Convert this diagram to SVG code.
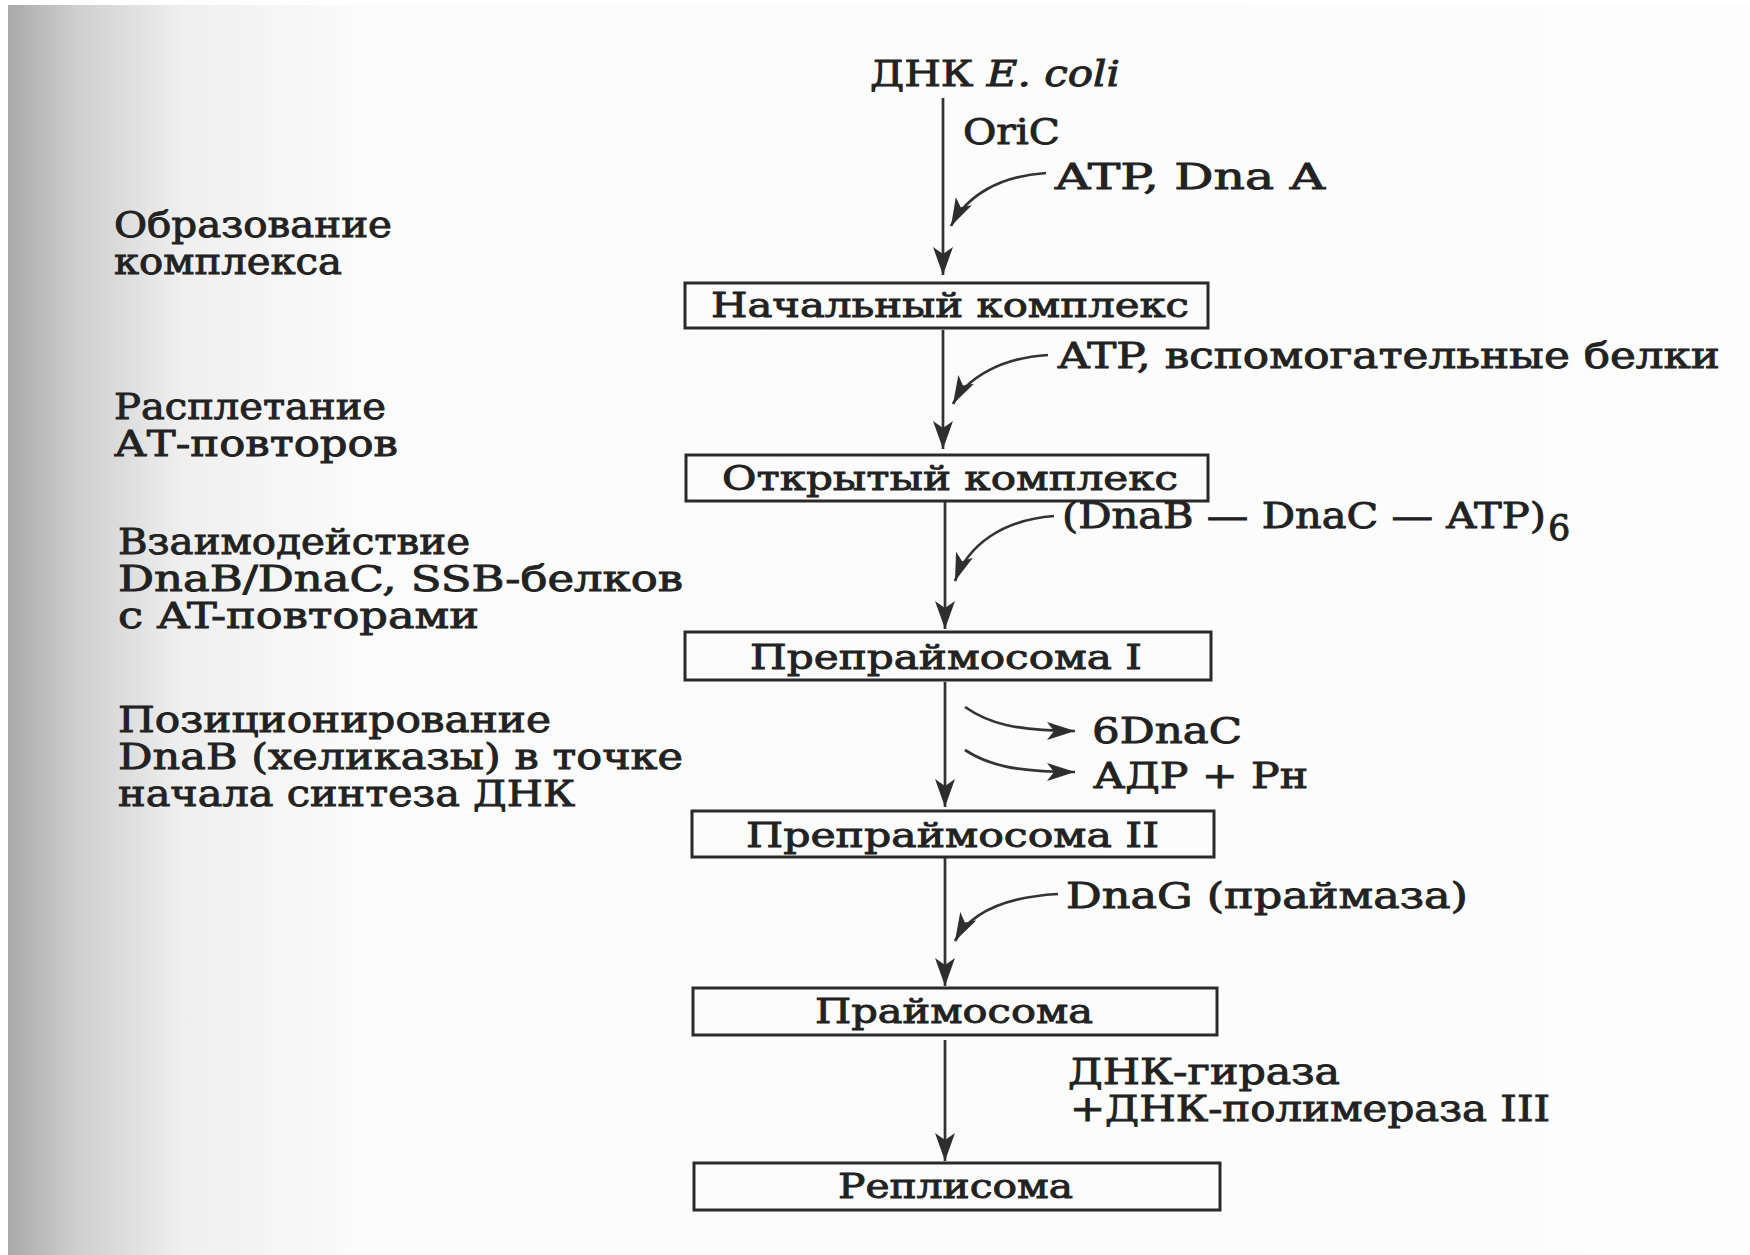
<svg xmlns="http://www.w3.org/2000/svg" width="1750" height="1255" viewBox="0 0 1750 1255">
<defs>
<linearGradient id="page" x1="0" y1="0" x2="1" y2="0" gradientUnits="objectBoundingBox">
<stop offset="0" stop-color="#a9a9a9"/>
<stop offset="0.04" stop-color="#cfcfcf"/>
<stop offset="0.1" stop-color="#efefef"/>
<stop offset="0.2" stop-color="#fbfbfb"/>
<stop offset="1" stop-color="#fdfdfd"/>
</linearGradient>
<marker id="ah" markerUnits="userSpaceOnUse" markerWidth="28" markerHeight="20" refX="28" refY="10" orient="auto">
<path d="M0,0 L28,10 L0,20 L7,10 z" fill="#2e2e2e"/>
</marker>
<marker id="ahs" markerUnits="userSpaceOnUse" markerWidth="28" markerHeight="18" refX="28" refY="9" orient="auto">
<path d="M0,0 L28,9 L0,18 L7,9 z" fill="#2e2e2e"/>
</marker>
<style>
.box{fill:none;stroke:#2a2a2a;stroke-width:3}
.t{font-family:"DejaVu Serif","Liberation Serif",serif;font-size:35px;fill:#222222;stroke:#222222;stroke-width:0.9}
.b{font-size:34px}
.line{fill:none;stroke:#333333;stroke-width:2.7}
</style>
</defs>
<rect x="0" y="0" width="1750" height="1255" fill="#ffffff"/>
<rect x="8" y="5" width="1742" height="1250" fill="url(#page)"/>

<g id="connectors">
<line class="line" x1="943" y1="98" x2="943" y2="275" marker-end="url(#ah)"/>
<path class="line" d="M1046,173 C1000,176 967,195 951,226" marker-end="url(#ahs)"/>
<line class="line" x1="943" y1="330" x2="943" y2="449" marker-end="url(#ah)"/>
<path class="line" d="M1048,355 C1000,358 967,378 953,404" marker-end="url(#ahs)"/>
<line class="line" x1="945" y1="502" x2="945" y2="629" marker-end="url(#ah)"/>
<path class="line" d="M1054,516 C1002,520 968,545 955,581" marker-end="url(#ahs)"/>
<line class="line" x1="945" y1="682" x2="945" y2="807" marker-end="url(#ah)"/>
<path class="line" d="M965,707 C988,723 1015,731 1075,731" marker-end="url(#ahs)"/>
<path class="line" d="M965,750 C988,765 1015,772 1075,772" marker-end="url(#ahs)"/>
<line class="line" x1="945" y1="858" x2="945" y2="986" marker-end="url(#ah)"/>
<path class="line" d="M1058,894 C1005,897 970,913 955,941" marker-end="url(#ahs)"/>
<line class="line" x1="945" y1="1040" x2="945" y2="1161" marker-end="url(#ah)"/>
</g>

<g id="start">
<text class="t" x="870" y="86" textLength="250" lengthAdjust="spacingAndGlyphs">ДНК <tspan font-style="italic">E. coli</tspan></text>
</g>

<g id="label-oric">
<text class="t" x="963" y="144" font-size="33" textLength="97" lengthAdjust="spacingAndGlyphs">OriC</text>
</g>
<g id="label-atp-dnaa">
<text class="t" x="1055" y="189" textLength="270" lengthAdjust="spacingAndGlyphs">ATP, Dna A</text>
</g>

<g id="step-left-1">
<text class="t" x="114" y="237" textLength="278" lengthAdjust="spacingAndGlyphs">Образование</text>
<text class="t" x="114" y="274" textLength="228" lengthAdjust="spacingAndGlyphs">комплекса</text>
</g>

<g id="box-initial">
<rect class="box" x="685" y="283" width="523" height="45"/>
<text class="t b" x="711" y="317" textLength="478" lengthAdjust="spacingAndGlyphs">Начальный комплекс</text>
</g>

<g id="label-atp-help">
<text class="t" x="1058" y="368" textLength="662" lengthAdjust="spacingAndGlyphs">ATP, вспомогательные белки</text>
</g>

<g id="step-left-2">
<text class="t" x="114" y="419" textLength="272" lengthAdjust="spacingAndGlyphs">Расплетание</text>
<text class="t" x="114" y="456" textLength="284" lengthAdjust="spacingAndGlyphs">АТ-повторов</text>
</g>

<g id="box-open">
<rect class="box" x="686" y="455" width="522" height="46"/>
<text class="t b" x="722" y="490" textLength="456" lengthAdjust="spacingAndGlyphs">Открытый комплекс</text>
</g>

<g id="label-dnab-dnac">
<text class="t" x="1062" y="528" textLength="484" lengthAdjust="spacingAndGlyphs">(DnaB — DnaC — ATP)</text>
<text class="t" x="1548" y="540" font-size="22" stroke-width="0.5">6</text>
</g>

<g id="step-left-3">
<text class="t" x="118" y="554" textLength="352" lengthAdjust="spacingAndGlyphs">Взаимодействие</text>
<text class="t" x="118" y="591" textLength="565" lengthAdjust="spacingAndGlyphs">DnaB/DnaC,  SSB-белков</text>
<text class="t" x="118" y="628" textLength="361" lengthAdjust="spacingAndGlyphs">с  AT-повторами</text>
</g>

<g id="box-prepri-1">
<rect class="box" x="685" y="632" width="526" height="48"/>
<text class="t b" x="750" y="669" textLength="392" lengthAdjust="spacingAndGlyphs">Препраймосома I</text>
</g>

<g id="label-6dnac">
<text class="t" x="1092" y="743" textLength="150" lengthAdjust="spacingAndGlyphs">6DnaC</text>
</g>
<g id="label-adp">
<text class="t" x="1093" y="788" textLength="215" lengthAdjust="spacingAndGlyphs">АДР + Рн</text>
</g>

<g id="step-left-4">
<text class="t" x="118" y="732" textLength="433" lengthAdjust="spacingAndGlyphs">Позиционирование</text>
<text class="t" x="118" y="769" textLength="565" lengthAdjust="spacingAndGlyphs">DnaB (хеликазы)  в точке</text>
<text class="t" x="118" y="806" textLength="457" lengthAdjust="spacingAndGlyphs">начала  синтеза  ДНК</text>
</g>

<g id="box-prepri-2">
<rect class="box" x="692" y="811" width="522" height="46"/>
<text class="t b" x="746" y="847" textLength="413" lengthAdjust="spacingAndGlyphs">Препраймосома II</text>
</g>

<g id="label-dnag">
<text class="t" x="1066" y="908" textLength="402" lengthAdjust="spacingAndGlyphs">DnaG  (праймаза)</text>
</g>

<g id="box-primosome">
<rect class="box" x="693" y="988" width="524" height="47"/>
<text class="t b" x="815" y="1023" textLength="278" lengthAdjust="spacingAndGlyphs">Праймосома</text>
</g>

<g id="label-gyrase">
<text class="t" x="1068" y="1084" textLength="272" lengthAdjust="spacingAndGlyphs">ДНК-гираза</text>
<text class="t" x="1070" y="1121" textLength="480" lengthAdjust="spacingAndGlyphs">+ДНК-полимераза III</text>
</g>

<g id="box-replisome">
<rect class="box" x="694" y="1163" width="526" height="47"/>
<text class="t b" x="838" y="1198" textLength="235" lengthAdjust="spacingAndGlyphs">Реплисома</text>
</g>
</svg>
